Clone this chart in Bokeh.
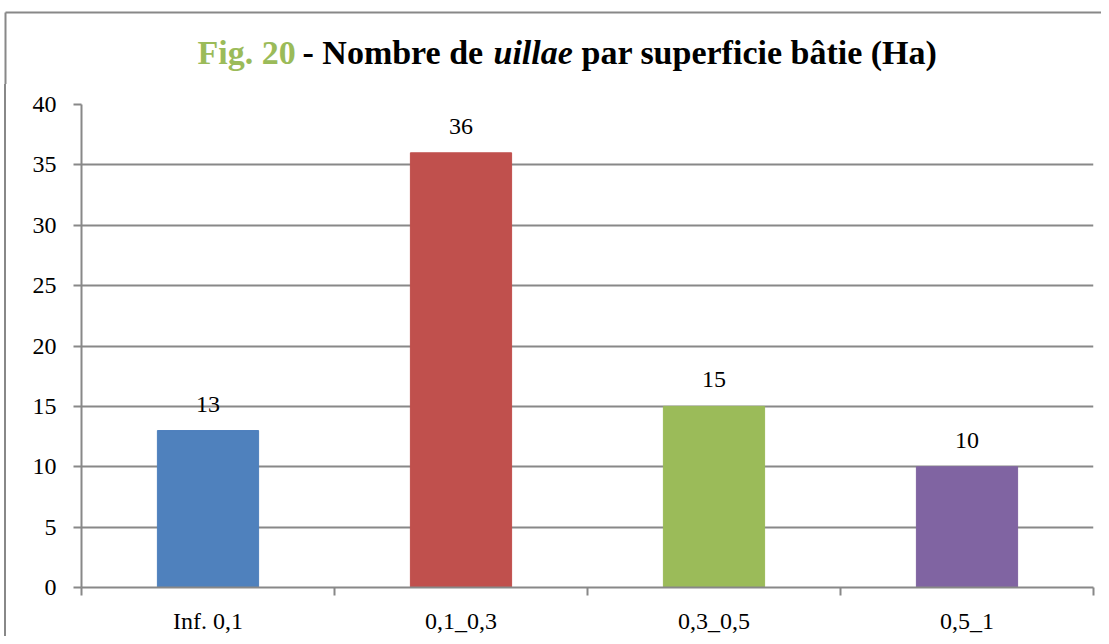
from bokeh.plotting import figure
from bokeh.models import ColumnDataSource, LabelSet, FixedTicker, Range1d, Div
from bokeh.layouts import column, row
from bokeh.core.properties import value
from bokeh.embed import file_html
from bokeh.resources import INLINE

categories = ["Inf. 0,1", "0,1_0,3", "0,3_0,5", "0,5_1"]
counts = [13, 36, 15, 10]
colors = ["#4F81BD", "#C0504D", "#9BBB59", "#8064A2"]
y_ticks = [0, 5, 10, 15, 20, 25, 30, 35, 40]

title_texts = ["Fig. 20", "- Nombre de", "uillae", "par superficie bâtie (Ha)"]
title_colors = ["#9BBB59", "black", "black", "black"]
title_styles = ["bold", "bold", "bold italic", "bold"]

FONT = "Liberation Serif"
GRID = "#888888"
BORDER = "#888888"

W, H = 1101, 636
TITLE_H = 84
STRIP_W = 10
NCAT = len(categories)


def blank(width, height, xr, yr):
    f = figure(width=width, height=height, output_backend="svg",
               toolbar_location=None, x_range=xr, y_range=yr, title=None,
               x_axis_location=None, y_axis_location=None,
               min_border=0, min_border_left=0, min_border_right=0,
               min_border_top=0, min_border_bottom=0)
    f.grid.visible = False
    f.outline_line_color = None
    f.background_fill_color = "white"
    f.border_fill_color = "white"
    return f


# ---- title strip (pixel coordinates, y pointing down) ----
tp = blank(W, TITLE_H, Range1d(0, W), Range1d(TITLE_H, 0))
tp.segment(x0=[5, 5], y0=[12, 12], x1=[W + 5, 5], y1=[12, TITLE_H + 5],
           line_color=BORDER, line_width=2)
title_x = [197, 302, 493, 581]
for txt, col, style, tx in zip(title_texts, title_colors, title_styles, title_x):
    tp.text(x=[tx], y=[52], text=[txt], text_color=col,
            text_font=value(FONT), text_font_style=style,
            text_font_size="34px", text_baseline="alphabetic",
            text_align="left")

# ---- left strip holding the chart border (plain block, no text) ----
CH = H - TITLE_H
sp = Div(text="", width=STRIP_W, height=CH, margin=0,
         styles={"background": "linear-gradient(to right, white 4px, " + BORDER +
                 " 4px, " + BORDER + " 6px, white 6px)",
                 "padding": "0", "margin": "0"})

# ---- chart ----
xs = [i + 0.5 for i in range(NCAT)]
src = ColumnDataSource(dict(x=xs, top=counts, color=colors,
                            label=[str(c) for c in counts]))

p = figure(width=W - STRIP_W, height=CH, output_backend="svg",
           toolbar_location=None, x_range=(0, NCAT), y_range=(0, 40),
           title=None,
           min_border_left=81 - STRIP_W, min_border_right=8,
           min_border_top=104 - TITLE_H, min_border_bottom=49)
p.outline_line_color = None
p.background_fill_color = "white"
p.border_fill_color = "white"

p.vbar(x="x", top="top", width=0.4, bottom=0, color="color", source=src)

labels = LabelSet(x="x", y="top", text="label", source=src, y_offset=19,
                  text_align="center", text_baseline="alphabetic",
                  text_font=FONT, text_font_size="24px", text_color="black")
p.add_layout(labels)

xa = p.xaxis[0]
xa.ticker = FixedTicker(ticks=xs, minor_ticks=list(range(NCAT + 1)))
xa.major_label_overrides = {x: c for x, c in zip(xs, categories)}
xa.major_tick_line_color = None
xa.major_tick_out = 0
xa.major_tick_in = 0
xa.minor_tick_line_color = GRID
xa.minor_tick_line_width = 2
xa.minor_tick_out = 8
xa.minor_tick_in = 0
xa.axis_line_color = GRID
xa.axis_line_width = 2
xa.major_label_standoff = 12
xa.major_label_text_font = FONT
xa.major_label_text_font_size = "24px"
xa.major_label_text_color = "black"

ya = p.yaxis[0]
ya.ticker = FixedTicker(ticks=y_ticks)
ya.minor_tick_line_color = None
ya.major_tick_line_color = GRID
ya.major_tick_line_width = 2
ya.major_tick_out = 8
ya.major_tick_in = 0
ya.axis_line_color = GRID
ya.axis_line_width = 2
ya.major_label_standoff = 17
ya.major_label_text_font = FONT
ya.major_label_text_font_size = "24px"
ya.major_label_text_color = "black"

p.xgrid.grid_line_color = None
p.ygrid.grid_line_color = GRID
p.ygrid.grid_line_width = 2

layout = column(tp, row(sp, p, spacing=0), spacing=0)

open("out.html", "w").write(file_html(layout, INLINE))
